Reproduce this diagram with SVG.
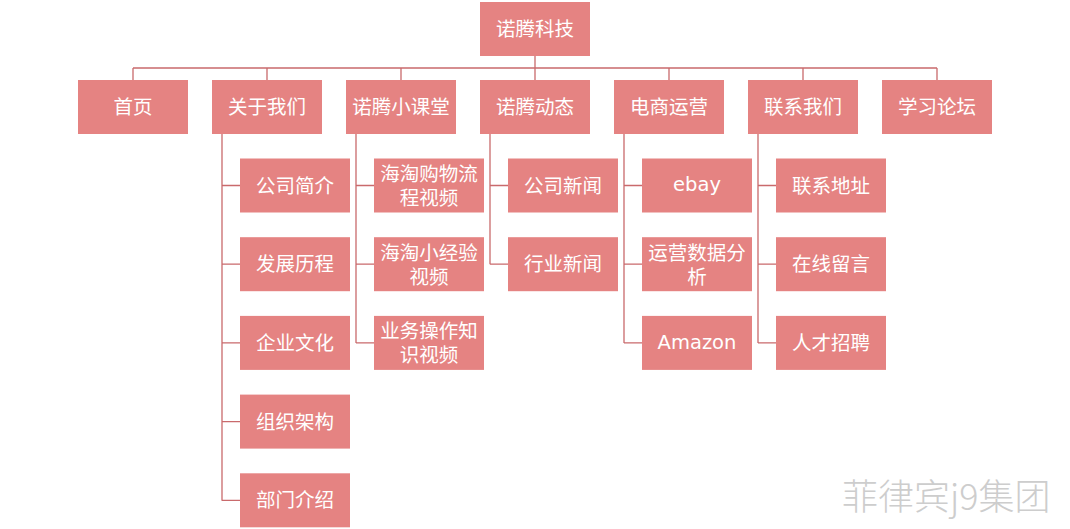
<svg xmlns="http://www.w3.org/2000/svg" width="1070" height="529" viewBox="0 0 1070 529">
<style>
.b{fill:#E58382}
.t{fill:#fff;font-family:"Noto Sans CJK SC","Noto Sans",sans-serif;font-size:19.5px;text-anchor:middle;dominant-baseline:central}
.l{font-family:"DejaVu Sans","Noto Sans CJK SC",sans-serif}
.c{fill:none;stroke:#C96A6C;stroke-width:1.3}
.w{fill:#cdcdcd;font-family:"Noto Sans CJK SC",sans-serif;font-size:36px;font-weight:300}
</style>
<rect width="1070" height="529" fill="#fff"/>
<g id="connectors" class="c">
<path d="M535 56V68M133 68H937M133 68V80M267 68V80M401 68V80M535 68V80M669 68V80M803 68V80M937 68V80"/>
<path d="M222 134V500.7M222 185.5H240M222 264.2H240M222 342.9H240M222 421.6H240M222 500.3H240"/>
<path d="M356 134V342.9M356 185.5H374M356 264.2H374M356 342.9H374"/>
<path d="M490 134V264.2M490 185.5H508M490 264.2H508"/>
<path d="M624 134V342.9M624 185.5H642M624 264.2H642M624 342.9H642"/>
<path d="M758 134V342.9M758 185.5H776M758 264.2H776M758 342.9H776"/>
</g>
<g id="root"><rect class="b" x="480" y="2" width="110" height="54"/><text class="t" x="535" y="27.5">诺腾科技</text></g>
<g id="n1"><rect class="b" x="78" y="80" width="110" height="54"/><text class="t" x="133" y="105.5">首页</text></g>
<g id="n2"><rect class="b" x="212" y="80" width="110" height="54"/><text class="t" x="267" y="105.5">关于我们</text></g>
<g id="n3"><rect class="b" x="346" y="80" width="110" height="54"/><text class="t" x="401" y="105.5">诺腾小课堂</text></g>
<g id="n4"><rect class="b" x="480" y="80" width="110" height="54"/><text class="t" x="535" y="105.5">诺腾动态</text></g>
<g id="n5"><rect class="b" x="614" y="80" width="110" height="54"/><text class="t" x="669" y="105.5">电商运营</text></g>
<g id="n6"><rect class="b" x="748" y="80" width="110" height="54"/><text class="t" x="803" y="105.5">联系我们</text></g>
<g id="n7"><rect class="b" x="882" y="80" width="110" height="54"/><text class="t" x="937" y="105.5">学习论坛</text></g>

<g id="n2a"><rect class="b" x="240" y="158.5" width="110" height="54"/><text class="t" x="295" y="184">公司简介</text></g>
<g id="n2b"><rect class="b" x="240" y="237.2" width="110" height="54"/><text class="t" x="295" y="262.7">发展历程</text></g>
<g id="n2c"><rect class="b" x="240" y="315.9" width="110" height="54"/><text class="t" x="295" y="341.4">企业文化</text></g>
<g id="n2d"><rect class="b" x="240" y="394.6" width="110" height="54"/><text class="t" x="295" y="420.1">组织架构</text></g>
<g id="n2e"><rect class="b" x="240" y="473.3" width="110" height="54"/><text class="t" x="295" y="498.8">部门介绍</text></g>

<g id="n3a"><rect class="b" x="374" y="158.5" width="110" height="54"/><text class="t" x="429" y="172"><tspan x="429">海淘购物流</tspan><tspan x="429" dy="24">程视频</tspan></text></g>
<g id="n3b"><rect class="b" x="374" y="237.2" width="110" height="54"/><text class="t" x="429" y="250.7"><tspan x="429">海淘小经验</tspan><tspan x="429" dy="24">视频</tspan></text></g>
<g id="n3c"><rect class="b" x="374" y="315.9" width="110" height="54"/><text class="t" x="429" y="329.4"><tspan x="429">业务操作知</tspan><tspan x="429" dy="24">识视频</tspan></text></g>

<g id="n4a"><rect class="b" x="508" y="158.5" width="110" height="54"/><text class="t" x="563" y="184">公司新闻</text></g>
<g id="n4b"><rect class="b" x="508" y="237.2" width="110" height="54"/><text class="t" x="563" y="262.7">行业新闻</text></g>

<g id="n5a"><rect class="b" x="642" y="158.5" width="110" height="54"/><text class="t l" x="697" y="184.5">ebay</text></g>
<g id="n5b"><rect class="b" x="642" y="237.2" width="110" height="54"/><text class="t" x="697" y="250.7"><tspan x="697">运营数据分</tspan><tspan x="697" dy="24">析</tspan></text></g>
<g id="n5c"><rect class="b" x="642" y="315.9" width="110" height="54"/><text class="t l" x="697" y="342.4">Amazon</text></g>

<g id="n6a"><rect class="b" x="776" y="158.5" width="110" height="54"/><text class="t" x="831" y="184">联系地址</text></g>
<g id="n6b"><rect class="b" x="776" y="237.2" width="110" height="54"/><text class="t" x="831" y="262.7">在线留言</text></g>
<g id="n6c"><rect class="b" x="776" y="315.9" width="110" height="54"/><text class="t" x="831" y="341.4">人才招聘</text></g>

<g id="watermark"><text class="w" x="842" y="510">菲律宾j9集团</text></g>
</svg>
